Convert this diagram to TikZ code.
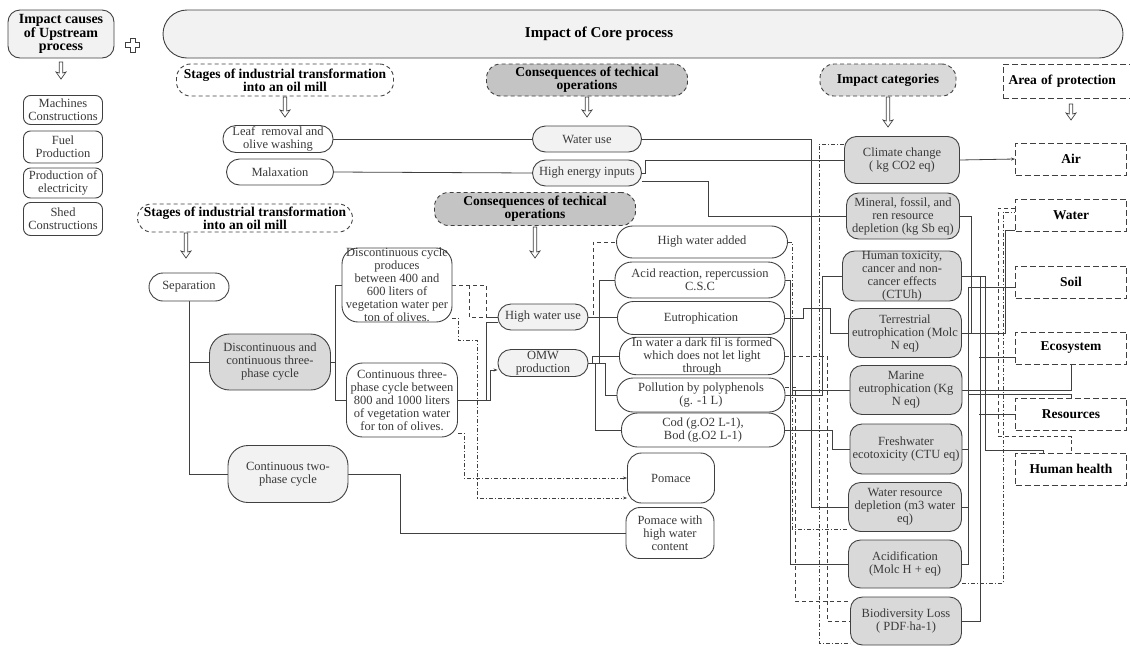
\documentclass[tikz,border=0pt]{standalone}
\usepackage{fontspec}
\setmainfont{Liberation Serif}
\usetikzlibrary{arrows.meta,backgrounds}
\definecolor{lgray}{HTML}{F2F2F2}
\definecolor{mgray}{HTML}{D9D9D9}
\definecolor{dgray}{HTML}{C4C4C4}
\definecolor{edge}{HTML}{404040}
\definecolor{txt}{HTML}{3A3A3A}
\newcommand\myBody{\fontsize{12.5}{13}\selectfont}
\newcommand\myHead{\fontsize{13.5}{13}\selectfont\bfseries}
\newcommand\myBig{\fontsize{15}{13.5}\selectfont\bfseries}
\newcommand\myUp{\fontsize{14}{13.5}\selectfont\bfseries}
\newcommand\dnarrow[3]{\draw[edge, line width=0.7pt, fill=white, line join=miter] (#1-1.8,#2) -- (#1-1.8,#2+#3-6) -- (#1-5,#2+#3-7) -- (#1,#2+#3) -- (#1+5,#2+#3-7) -- (#1+1.8,#2+#3-6) -- (#1+1.8,#2) -- cycle;}
\begin{document}
\begin{tikzpicture}[x=1pt,y=-1pt,
  box/.style={draw=edge, line width=0.9pt, rounded corners=#1, align=center, inner sep=0pt, font=\myBody, text=txt, fill=white},
  box/.default=12pt,
  gbox/.style={box=#1, fill=mgray},
  gbox/.default=12pt,
  lbox/.style={box=#1, fill=lgray},
  lbox/.default=12pt,
  hdr/.style={draw=edge, dash pattern=on 4pt off 3pt, line width=0.9pt, rounded corners=14pt, align=center, inner sep=0pt, font=\myHead, text=black},
  aop/.style={draw=edge, dash pattern=on 6pt off 3pt, line width=0.9pt, align=center, inner sep=0pt, font=\myHead, text=black, fill=white, minimum width=111pt, minimum height=32pt},
  conn/.style={draw=edge, line width=0.8pt},
  dsh/.style={conn, dash pattern=on 4pt off 3pt},
  ddot/.style={conn, dash pattern=on 4pt off 2pt on 1pt off 2pt},
  tip/.style={-{Stealth[length=4pt,width=3pt]}}
]
\useasboundingbox (0,0) rectangle (1130,646);

% top
\node[lbox=12pt, font=\myUp, text=black, minimum width=106pt, minimum height=48pt] (up) at (61,34) {Impact causes\\of Upstream\\process};
\node[lbox=24pt, minimum width=960pt, minimum height=48pt] (core) at (643,34) {};
\node[font=\myBig, text=black, inner sep=0pt] (coretxt) at (599,34) {Impact of Core process};
\draw[edge, line width=0.8pt, fill=white] (130,38) -- (135,38) -- (135,42.5) -- (139.5,42.5) -- (139.5,47.5) -- (135,47.5) -- (135,52) -- (130,52) -- (130,47.5) -- (125.5,47.5) -- (125.5,42.5) -- (130,42.5) -- cycle;

% upstream list
\node[box=7pt, minimum width=79pt, minimum height=29pt] (mach) at (63,110) {Machines\\Constructions};
\node[box=7pt, minimum width=79pt, minimum height=32pt] (fuel) at (63,147) {Fuel\\Production};
\node[box=7pt, minimum width=79pt, minimum height=30pt] (elec) at (63,183) {Production of\\electricity};
\node[box=7pt, minimum width=79pt, minimum height=33pt] (shed) at (63,219) {Shed\\Constructions};

% stages 1
\node[hdr, minimum width=217pt, minimum height=32pt] (st1) at (285,80) {Stages of industrial transformation\\into an oil mill};
\node[box=13pt, minimum width=110pt, minimum height=27pt] (leaf) at (278,139) {Leaf~ removal and\\olive washing};
\node[box=13pt, minimum width=107pt, minimum height=26pt] (malax) at (280,172) {Malaxation};

% consequences 1
\node[hdr, fill=dgray, minimum width=201pt, minimum height=32pt] (cons1) at (587,80) {Consequences of techical\\operations};
\node[lbox=13pt, minimum width=109pt, minimum height=26pt] (wuse) at (587,139) {Water use};
\node[lbox=13pt, minimum width=109pt, minimum height=26pt] (hei) at (587,173) {High energy inputs};

% stages 2
\node[hdr, minimum width=215pt, minimum height=28pt] (st2) at (245,218) {Stages of industrial transformation\\into an oil mill};
\node[box=14pt, minimum width=80pt, minimum height=28pt] (sep) at (189,287) {Separation};
\node[gbox=20pt, minimum width=121pt, minimum height=56pt] (d3p) at (270,362) {Discontinuous and\\continuous three-\\phase cycle};
\node[lbox=20pt, minimum width=120pt, minimum height=57pt] (c2p) at (288,474) {Continuous two-\\phase cycle};
\node[box=16pt, minimum width=110pt, minimum height=74pt] (disc) at (397,285) {Discontinuous cycle\\produces\\between 400 and\\600 liters of\\vegetation water per\\ton of olives.};
\node[box=16pt, minimum width=111pt, minimum height=74pt] (cont3) at (402,400) {Continuous three-\\phase cycle between\\800 and 1000 liters\\of vegetation water\\for ton of olives.};

% consequences 2
\node[hdr, fill=dgray, minimum width=201pt, minimum height=33pt] (cons2) at (535,209) {Consequences of techical\\operations};
\node[lbox=13pt, minimum width=90pt, minimum height=26pt] (hwu) at (543,317) {High water use};
\node[lbox=13pt, minimum width=90pt, minimum height=27pt] (omw) at (543,363) {OMW\\production};
\node[box=16pt, minimum width=171pt, minimum height=32pt] (hwa) at (702,242) {High water added};
\node[box=17pt, minimum width=170pt, minimum height=36pt] (acid) at (700,280) {Acid reaction, repercussion\\C.S.C};
\node[box=16pt, minimum width=167pt, minimum height=33pt] (eutro) at (701,318) {Eutrophication};
\node[box=17pt, minimum width=165pt, minimum height=37pt] (dark) at (702,356) {In water a dark fil is formed\\which does not let light\\through};
\node[box=16pt, minimum width=168pt, minimum height=34pt] (poll) at (701,395) {Pollution by polyphenols\\(g. -1 L)};
\node[box=16pt, minimum width=163pt, minimum height=34pt] (cod) at (703,430) {Cod (g.O2 L-1),\\Bod (g.O2 L-1)};
\node[box=14pt, minimum width=87pt, minimum height=50pt] (pomace) at (671,478) {Pomace};
\node[box=14pt, minimum width=88pt, minimum height=51pt] (pwh) at (670,533) {Pomace with\\high water\\content};

% impact categories
\node[hdr, fill=mgray, minimum width=136pt, minimum height=32pt] (imp) at (888,80) {Impact categories};
\node[gbox=12pt, minimum width=115pt, minimum height=47pt] (cc) at (902,160) {Climate change\\( kg CO2 eq)};
\node[gbox=12pt, minimum width=113pt, minimum height=46pt] (mfr) at (903,216) {Mineral, fossil, and\\ren resource\\depletion (kg Sb eq)};
\node[gbox=12pt, minimum width=119pt, minimum height=48pt] (htox) at (902,276) {Human toxicity,\\cancer and non-\\cancer effects\\(CTUh)};
\node[gbox=12pt, minimum width=113pt, minimum height=49pt] (terr) at (905,333) {Terrestrial\\eutrophication (Molc\\N eq)};
\node[gbox=12pt, minimum width=112pt, minimum height=49pt] (marine) at (906,390) {Marine\\eutrophication (Kg\\N eq)};
\node[gbox=12pt, minimum width=112pt, minimum height=50pt] (fresh) at (906,449) {Freshwater\\ecotoxicity (CTU eq)};
\node[gbox=12pt, minimum width=113pt, minimum height=49pt] (wrd) at (905,507) {Water resource\\depletion (m3 water\\eq)};
\node[gbox=12pt, minimum width=113pt, minimum height=48pt] (acidif) at (905,564) {Acidification\\(Molc H + eq)};
\node[gbox=12pt, minimum width=111pt, minimum height=48pt] (bio) at (906,621) {Biodiversity Loss\\( PDF$\cdot$ha-1)};

% area of protection
\node[aop, minimum width=130pt, minimum height=34pt, text width=125pt, align=left] (aoph) at (1068,81) {\hspace{3pt}Area of protection};
\node[aop] (air) at (1071,159) {Air};
\node[aop] (water) at (1071,215) {Water};
\node[aop] (soil) at (1071,282) {Soil};
\node[aop] (eco) at (1071,348) {Ecosystem};
\node[aop] (res) at (1071,414) {Resources};
\node[aop] (hh) at (1071,469) {Human health};

% header arrows
\dnarrow{61}{62}{17}
\dnarrow{285}{97}{20}
\dnarrow{587}{97}{20}
\dnarrow{888}{97}{30}
\dnarrow{1071}{104}{16}
\dnarrow{186}{233}{25}
\dnarrow{535}{227}{31}

\begin{scope}[on background layer]
% left flows
\draw[conn] (leaf.east) -- (wuse.west);
\draw[conn] (malax.east) -- (hei.west);
\draw[conn] (sep.south) |- (d3p.west);
\draw[conn] (sep.south) |- (c2p.west);
\draw[conn] (d3p.east) -- ++(4,0) |- (disc.west);
\draw[conn] (d3p.east) -- ++(4,0) |- (cont3.west);
\draw[dsh] (disc.east) -- ++(34,0) |- (hwu.west);
\draw[dsh] ([xshift=17pt]disc.east) |- (hwu.west);
\draw[ddot, tip] ([yshift=4pt]disc.south east) -- ++(6,0) -- ++(0,22) -- ++(19,0) |- ([yshift=-20pt]pomace.west);
\draw[conn] (cont3.east) -- ++(28,0) |- ([yshift=-5pt]hwu.west);
\draw[conn, tip] (cont3.east) -- ++(32,0) |- ([yshift=-7pt]omw.west);
\draw[ddot, tip] ([yshift=4pt]cont3.south east) -- ++(6,0) |- (pomace.west);
\draw[conn] (c2p.east) -- ++(52,0) |- (pwh.west);

% consequences to effects
\draw[conn] (hwu.east) -- (hwu.east -| eutro.west);
\draw[dsh] (hwu.east) -- ++(5,0) |- (hwa.west);
\draw[conn] (omw.east) -- ++(11,0) |- (acid.west);
\draw[conn] (omw.east) -- ++(4,0) |- (dark.west);
\draw[conn] (omw.east) -- ++(17,0) |- (poll.west);
\draw[conn] (omw.east) -- ++(7,0) |- (cod.west);

% to impact categories
\draw[conn] (wuse.east) -- ++(169,0) |- (wrd.west);
\draw[conn] (hei.east) -- ++(3,0) |- (cc.west);
\draw[conn] ([yshift=-8pt]hei.east) -- ++(66,0) |- (mfr.west);
\draw[conn] (acid.east) -- ++(5,0) |- (acidif.west);
\draw[conn] (eutro.east) -- ++(18,0) -- ++(0,-10) -- ++(27,0) |- (terr.west);
\draw[conn] (eutro.east) -- ++(7,0) |- (marine.west);
\draw[conn] (poll.east) -- ++(37,0) |- (htox.west);
\draw[conn] (cod.east) -- ++(47,0) |- (fresh.west);
\draw[dsh] (dark.east) -- ++(42,0) |- (bio.west);
\draw[ddot] (hwa.east) -- ++(4,0) |- ([yshift=-22pt]wrd.west);
\draw[dsh] ([yshift=8pt]poll.east) -- ++(10,0) |- ([yshift=20pt]bio.west);
\draw[ddot] ([yshift=16pt]cc.west) -- ++(-25,0) |- ([yshift=-22pt]bio.west);

% to areas of protection
\draw[conn, tip] (cc.east) -- (air.west);
\draw[conn] (terr.east) -- ++(43,0) |- ([yshift=-15pt]water.west);
\draw[conn] (mfr.east) -- ++(11,0) |- (terr.east);
\draw[conn] (acidif.east) -- ++(6,0) |- ([yshift=-5pt]soil.west);
\draw[conn] (wrd.east) -- ++(6,0);
\draw[conn] (fresh.east) -- ++(6,0);
\draw[conn] (res.north) -- ++(0,-3) -| ([xshift=6pt]wrd.east);
\draw[conn] (bio.east) -| ([xshift=18pt]htox.east) -- (htox.east);
\draw[conn] ([yshift=-9pt]eco.west) -- ++(-36,0);
\draw[conn] (res.west) -- ++(-36,0);
\draw[conn] (htox.east) -- ++(23,0) |- ([xshift=-28pt,yshift=2pt]hh.north) -- ([xshift=-28pt]hh.north);
\draw[conn] (eco.south) |- (marine.east);
\draw[ddot] ([yshift=-19pt]acidif.east) -- ++(41,0) |- ([yshift=3pt]water.west);
\draw[dsh] ([yshift=7pt]water.west) -- ++(-17,0) |- ([yshift=16pt]hh.north) -- (hh.north);
\end{scope}
\end{tikzpicture}
\end{document}
